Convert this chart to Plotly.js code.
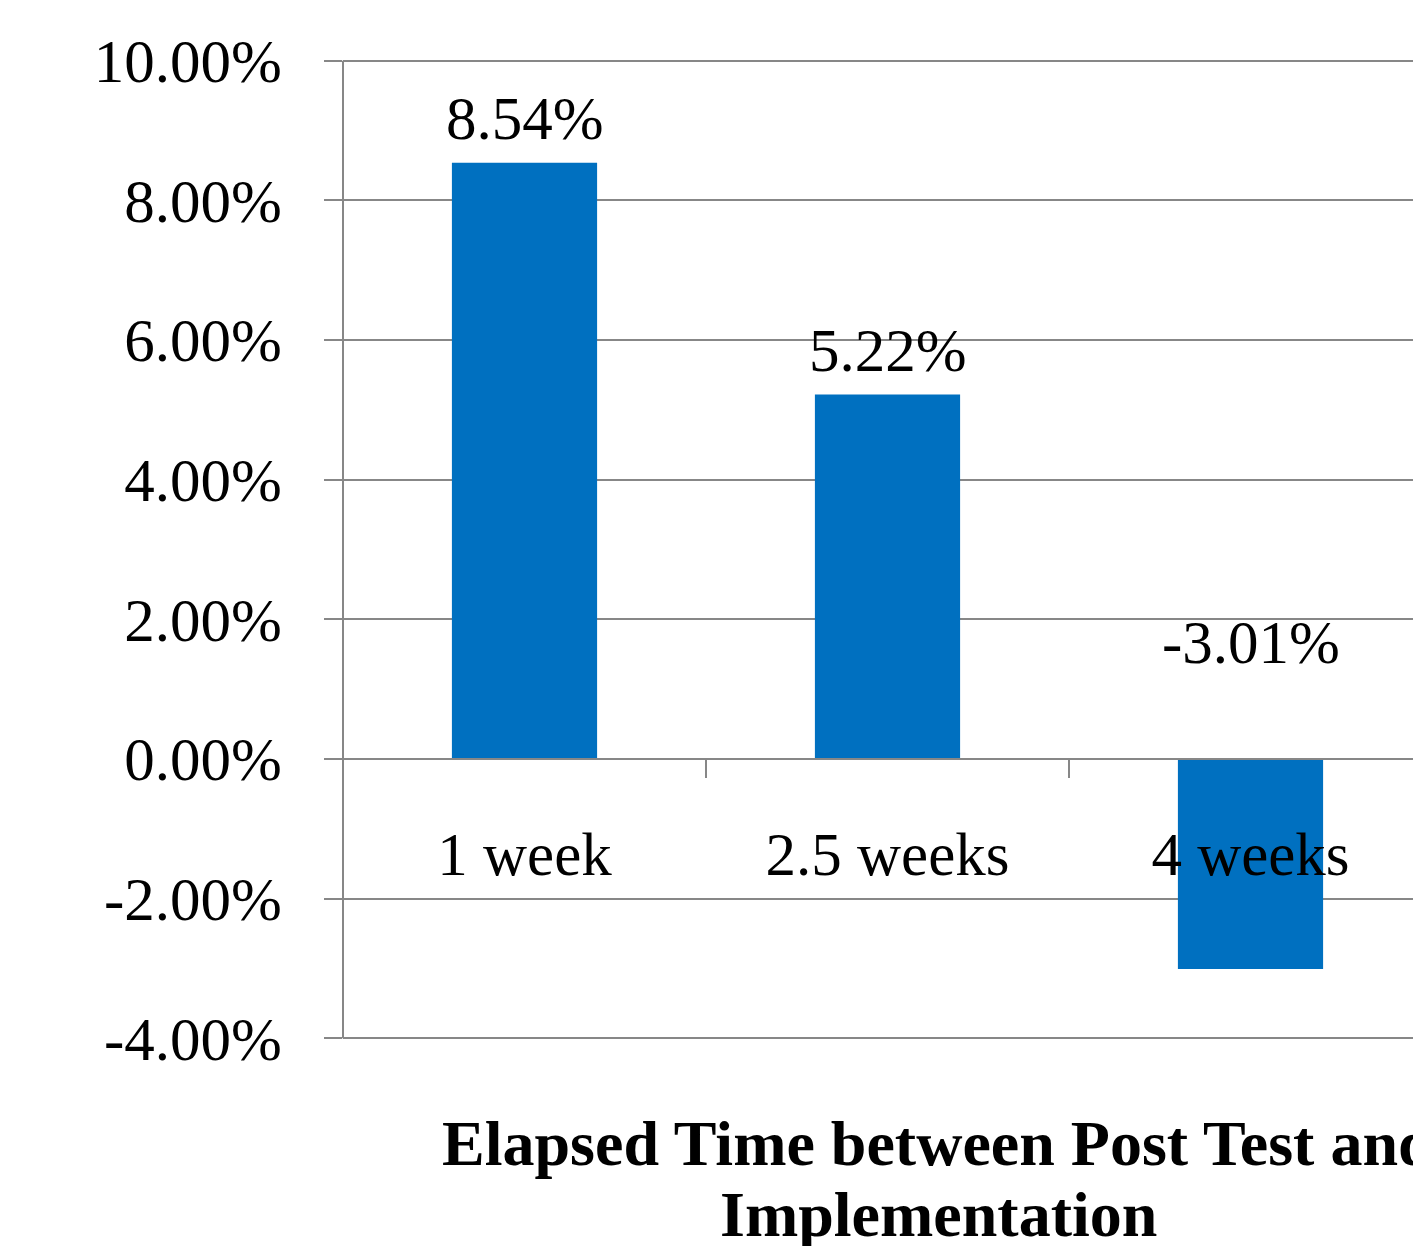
<!DOCTYPE html>
<html>
<head>
<meta charset="utf-8">
<script src="https://cdn.plot.ly/plotly-3.0.1.min.js"></script>
<style>
html, body { margin: 0; padding: 0; overflow: hidden; background: #fff; }
#chart { width: 1452px; height: 1246px; }
</style>
</head>
<body>
<div id="chart"></div>
<script>
const categories = ["1 week", "2.5 weeks", "4 weeks"];
const values = [0.0854, 0.0522, -0.0301];
const valueLabels = ["8.54%", "5.22%", "-3.01%"];
const yTickVals = [-0.04, -0.02, 0, 0.02, 0.04, 0.06, 0.08, 0.10];
const yTickText = ["-4.00%", "-2.00%", "0.00%", "2.00%", "4.00%", "6.00%", "8.00%", "10.00%"];
const titleLines = ["Elapsed Time between Post Test and", "Implementation"];

const FONT = "'Liberation Serif', 'Times New Roman', serif";
const GRID = "#878787";
const PAD = 0.0004;
const yMin = -0.04 - PAD, yMax = 0.10 + PAD;

const trace = {
  type: "bar",
  x: categories,
  y: values,
  width: 0.4,
  marker: { color: "#0070C0" },
  hoverinfo: "skip"
};

const annotations = categories.map((c, i) => ({
  xref: "x", yref: "y",
  x: c,
  y: Math.max(values[i], 0),
  text: valueLabels[i],
  showarrow: false,
  yanchor: "middle",
  yshift: values[i] >= 0 ? 44 : 116,
  font: { family: FONT, size: 61, color: "#000" }
}));

titleLines.forEach((t, i) => {
  annotations.push({
    xref: "paper", yref: "paper",
    x: 0.5464, y: 0,
    xanchor: "center", yanchor: "top",
    yshift: -65 - 71 * i,
    text: "<b>" + t + "</b>",
    showarrow: false,
    font: { family: FONT, size: 64, color: "#000" }
  });
});

const layout = {
  width: 1452,
  height: 1246,
  margin: { l: 343, r: 20, t: 58, b: 205 },
  paper_bgcolor: "#fff",
  plot_bgcolor: "#fff",
  showlegend: false,
  font: { family: FONT, color: "#000" },
  xaxis: {
    type: "category",
    anchor: "free",
    position: (0 - yMin) / (yMax - yMin),
    showline: true,
    linecolor: GRID,
    linewidth: 2,
    ticks: "outside",
    tickson: "boundaries",
    ticklen: 18,
    tickwidth: 2,
    tickcolor: GRID,
    showgrid: false,
    tickfont: { family: FONT, size: 61, color: "#000" },
    ticklabelstandoff: 42,
    range: [-0.5, 2.5]
  },
  yaxis: {
    range: [yMin, yMax],
    tickmode: "array",
    tickvals: yTickVals,
    ticktext: yTickText,
    showline: false,
    ticks: "outside",
    ticklen: 18,
    tickwidth: 2,
    tickcolor: GRID,
    showgrid: true,
    gridcolor: GRID,
    gridwidth: 2,
    zeroline: false,
    tickfont: { family: FONT, size: 61, color: "#000" },
    ticklabelstandoff: 30
  },
  shapes: [{
    type: "line", xref: "paper", yref: "y",
    x0: 0, x1: 0, y0: yTickVals[0], y1: yTickVals[yTickVals.length - 1],
    line: { color: GRID, width: 2 }
  }],
  annotations: annotations
};

Plotly.newPlot("chart", [trace], layout, { staticPlot: true, displayModeBar: false });
</script>
</body>
</html>
